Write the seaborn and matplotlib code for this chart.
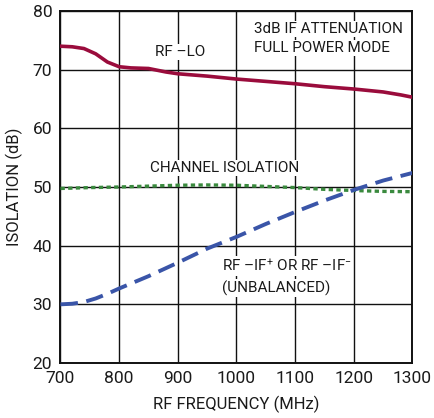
import matplotlib
matplotlib.use("Agg")
import matplotlib.pyplot as plt
import seaborn as sns
import pandas as pd

freq_lo = [700, 720, 740, 760, 780, 800, 820, 850, 880, 900, 950, 1000, 1050, 1100, 1150, 1200, 1250, 1280, 1300]
rf_lo = [74.0, 73.9, 73.6, 72.7, 71.3, 70.5, 70.3, 70.2, 69.6, 69.3, 68.9, 68.4, 68.0, 67.6, 67.1, 66.7, 66.2, 65.7, 65.3]

freq_ch = [700, 750, 800, 850, 900, 950, 1000, 1050, 1100, 1150, 1200, 1250, 1300]
chan_iso = [49.75, 49.9, 50.0, 50.15, 50.3, 50.35, 50.3, 50.1, 49.9, 49.6, 49.4, 49.25, 49.2]

freq_if = [700, 720, 740, 760, 780, 800, 850, 900, 950, 1000, 1050, 1100, 1150, 1200, 1250, 1300]
rf_if = [30.0, 30.1, 30.4, 31.0, 31.8, 32.7, 34.8, 37.1, 39.5, 41.5, 43.7, 45.75, 47.7, 49.5, 51.1, 52.4]

x_ticks = [700, 800, 900, 1000, 1100, 1200, 1300]
y_ticks = [20, 30, 40, 50, 60, 70, 80]

sns.set_theme(style="white")
plt.rcParams["font.family"] = ["Roboto", "DejaVu Sans"]
plt.rcParams["mathtext.fontset"] = "custom"
plt.rcParams["mathtext.rm"] = "Roboto"
plt.rcParams["mathtext.default"] = "rm"

fig = plt.figure(figsize=(4.35, 4.18), dpi=100)
ax = fig.add_axes([60.5/435, 1 - 363/418, 352/435, 352/418])

df_lo = pd.DataFrame({"f": freq_lo, "v": rf_lo})
df_ch = pd.DataFrame({"f": freq_ch, "v": chan_iso})
df_if = pd.DataFrame({"f": freq_if, "v": rf_if})

sns.lineplot(data=df_lo, x="f", y="v", ax=ax, color="#9A0C3C", linewidth=2.6, zorder=3)
sns.lineplot(data=df_ch, x="f", y="v", ax=ax, color="#3A8A3E", linewidth=2.4, linestyle=(0, (1.3, 1.0)), zorder=3)
sns.lineplot(data=df_if, x="f", y="v", ax=ax, color="#3A55A8", linewidth=2.8, linestyle=(0, (4.5, 2.2)), zorder=3)

ax.set_xlim(700, 1300)
ax.set_ylim(20, 80)
ax.set_xticks(x_ticks)
ax.set_yticks(y_ticks)
ax.set_xticklabels([str(t) for t in x_ticks])
ax.set_yticklabels([str(t) for t in y_ticks])
ax.tick_params(axis="both", labelsize=12.5, length=0, colors="#1a1a1a")
ax.tick_params(axis="x", pad=6)
ax.tick_params(axis="y", pad=6)
ax.grid(True, color="#111111", linewidth=1.0)
ax.set_axisbelow(True)
for s in ax.spines.values():
    s.set_color("#111111")
    s.set_linewidth(1.4)

ax.set_xlabel("RF FREQUENCY (MHz)", fontsize=12, color="#1a1a1a", labelpad=7)
ax.set_ylabel("ISOLATION (dB)", fontsize=12, color="#1a1a1a", labelpad=7)

def px(xp, yp):
    return ((xp - 60.5) / 352, (363 - yp) / 352)

bb = dict(facecolor="white", edgecolor="none", pad=1.0)
tk = dict(fontsize=11, color="#1a1a1a", transform=ax.transAxes, va="center", ha="left", zorder=4, bbox=bb)
ax.text(*px(155, 52), "RF \u2013LO", **tk)
ax.text(*px(254, 29), "3dB IF ATTENUATION", **tk)
ax.text(*px(254, 48), "FULL POWER MODE", **tk)
ax.text(*px(150, 168), "CHANNEL ISOLATION", **tk)
ax.text(*px(222, 266), "RF \u2013IF$^{+}$ OR RF \u2013IF$^{-}$", **tk)
ax.text(*px(222, 288), "(UNBALANCED)", **tk)

fig.savefig("out.png", dpi=100)
